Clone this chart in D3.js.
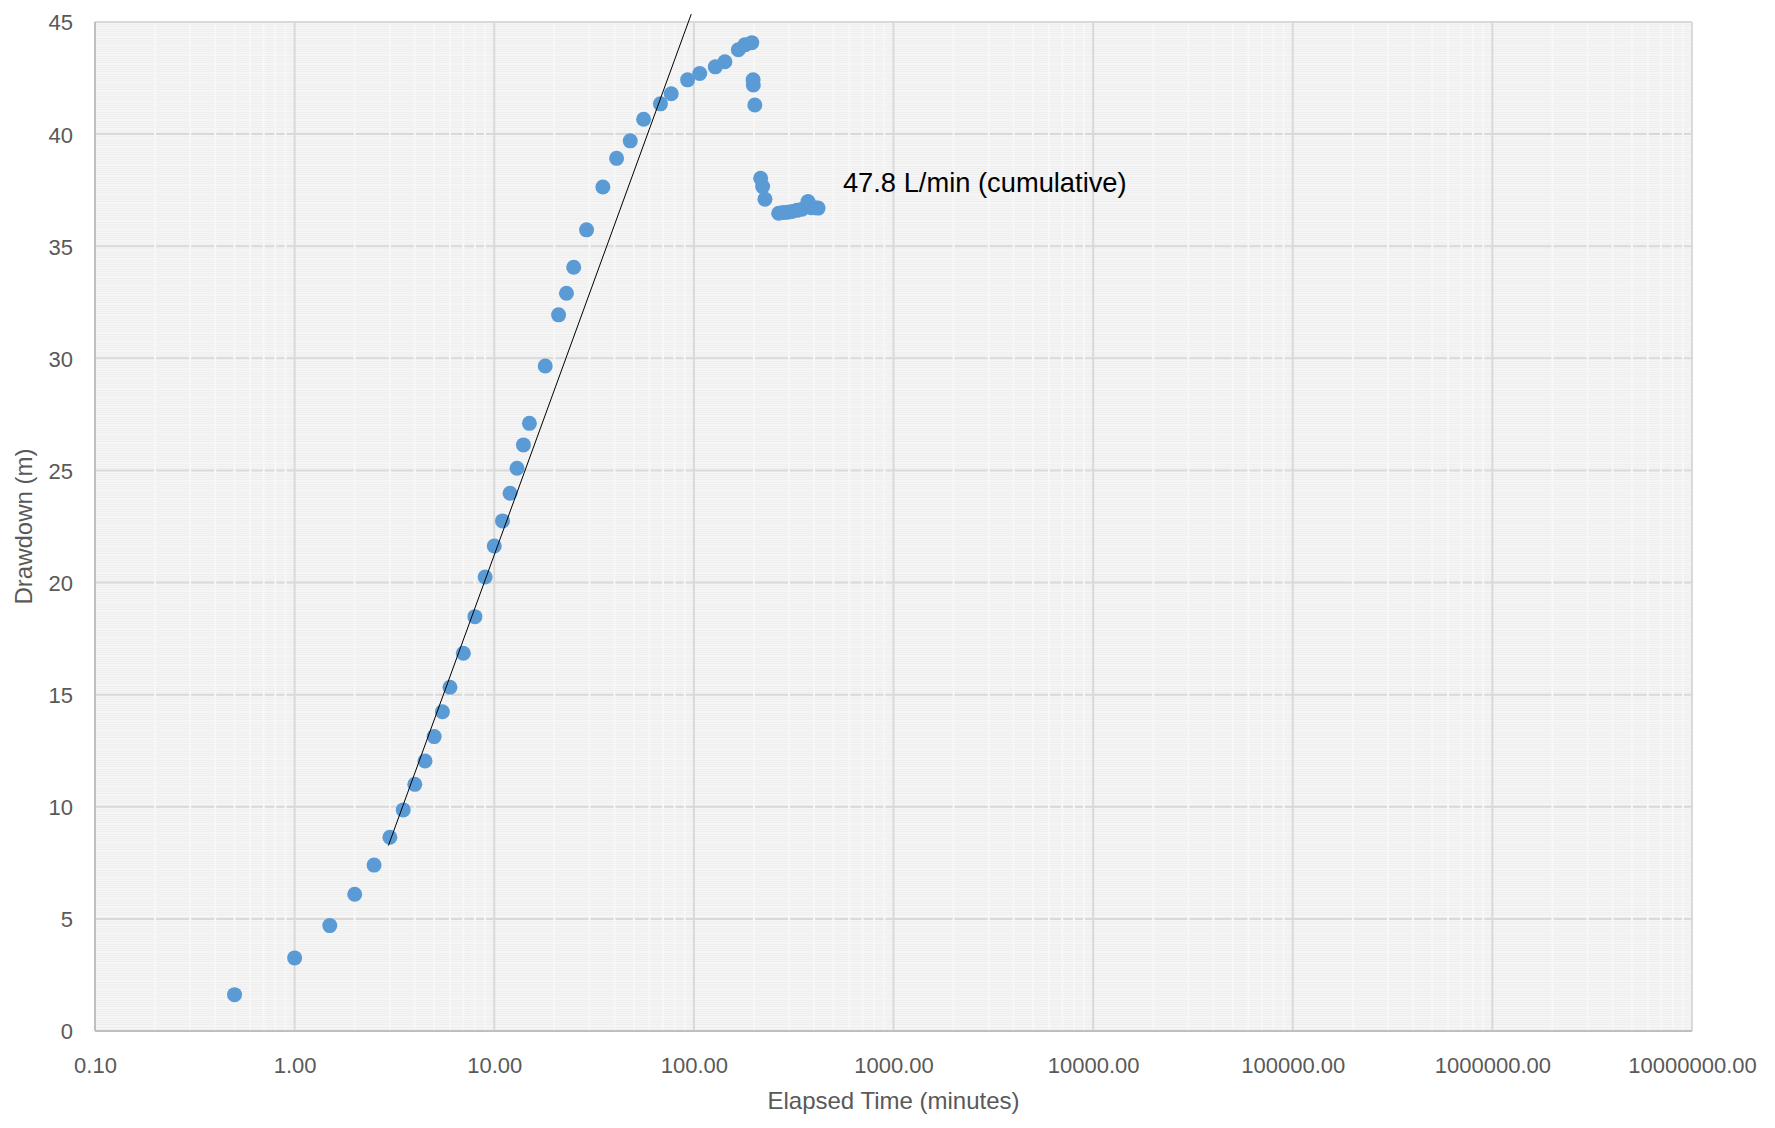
<!DOCTYPE html>
<html>
<head>
<meta charset="utf-8">
<script src="https://cdn.jsdelivr.net/npm/d3@7/dist/d3.min.js"></script>
<style>
  body { margin: 0; background: #fff; }
  text { font-family: "Liberation Sans", Arial, sans-serif; }
</style>
</head>
<body>
<div id="chart"></div>
<script>
var W = 1775, H = 1128;
var margin = {left: 95, top: 22, right: 83, bottom: 97},
    width = W - margin.left - margin.right,
    height = H - margin.top - margin.bottom;

// elapsed time (minutes) and drawdown (m)
var timeMin = [0.5, 1, 1.5, 2, 2.5, 3, 3.5, 4, 4.5, 5, 5.5, 6, 7, 8, 9, 10, 11, 12, 13, 14, 15,
  18, 21, 23, 25, 29, 35, 41, 48, 56, 68, 77, 93, 107, 128, 143, 167, 180, 195,
  198, 198.5, 202, 216, 221, 227,
  266, 280, 295, 310, 328, 348, 373, 388, 403, 419];
var drawdown = [1.62, 3.26, 4.70, 6.10, 7.40, 8.64, 9.86, 11.0, 12.04, 13.13, 14.24, 15.33, 16.85, 18.48, 20.25, 21.63, 22.75, 23.98, 25.1, 26.14, 27.1,
  29.66, 31.94, 32.9, 34.06, 35.73, 37.64, 38.92, 39.7, 40.66, 41.35, 41.8, 42.42, 42.7, 43.0, 43.23, 43.76, 43.98, 44.08,
  42.42, 42.19, 41.3, 38.03, 37.66, 37.1,
  36.47, 36.5, 36.52, 36.55, 36.6, 36.65, 36.99, 36.72, 36.72, 36.7];

// straight-line fit (semi-log) end points
var trendT = [2.95, 97];
var trendS = [8.27, 45.35];

var xTicks = [0.1, 1, 10, 100, 1000, 10000, 100000, 1000000, 10000000];
var yTicks = [0, 5, 10, 15, 20, 25, 30, 35, 40, 45];

var noteText = "47.8 L/min (cumulative)";
var noteT = 558, noteS = 37.4;

var x = d3.scaleLog().domain([0.1, 1e7]).range([0, width]);
var y = d3.scaleLinear().domain([0, 45]).range([height, 0]);

var svg = d3.select("#chart").append("svg")
  .attr("width", W)
  .attr("height", H);

var g = svg.append("g")
  .attr("transform", "translate(" + margin.left + "," + margin.top + ")");

// plot background
g.append("rect")
  .attr("width", width)
  .attr("height", height)
  .attr("fill", "#f5f5f5");

// fine horizontal minor lines (every 0.1 m)
g.append("g").selectAll("line")
  .data(d3.range(1, 450).map(function(i) { return i / 10; }))
  .enter().append("line")
  .attr("x1", 0).attr("x2", width)
  .attr("y1", function(d) { return Math.round(y(d)) + 0.5; })
  .attr("y2", function(d) { return Math.round(y(d)) + 0.5; })
  .attr("stroke", "#efefef")
  .attr("stroke-width", 1);

// major horizontal gridlines
g.append("g").selectAll("line")
  .data(yTicks.slice(1))
  .enter().append("line")
  .attr("x1", 0).attr("x2", width)
  .attr("y1", function(d) { return y(d); })
  .attr("y2", function(d) { return y(d); })
  .attr("stroke", "#d9d9d9")
  .attr("stroke-width", 2);

// minor vertical lines (lighter than background, they break the horizontal gridlines)
var minorX = [];
xTicks.slice(0, -1).forEach(function(t) {
  for (var k = 2; k < 10; k++) minorX.push(t * k);
});
g.append("g").selectAll("line")
  .data(minorX)
  .enter().append("line")
  .attr("x1", function(d) { return x(d); })
  .attr("x2", function(d) { return x(d); })
  .attr("y1", 0).attr("y2", height)
  .attr("stroke", "#f7f7f7")
  .attr("stroke-width", 2);

// major vertical gridlines
g.append("g").selectAll("line")
  .data(xTicks.slice(1, -1))
  .enter().append("line")
  .attr("x1", function(d) { return x(d); })
  .attr("x2", function(d) { return x(d); })
  .attr("y1", 0).attr("y2", height)
  .attr("stroke", "#d9d9d9")
  .attr("stroke-width", 2);

// frame
g.append("line").attr("x1", 0).attr("x2", width).attr("y1", 0).attr("y2", 0)
  .attr("stroke", "#d9d9d9").attr("stroke-width", 2);
g.append("line").attr("x1", width).attr("x2", width).attr("y1", 0).attr("y2", height)
  .attr("stroke", "#d9d9d9").attr("stroke-width", 2);
g.append("line").attr("x1", 0).attr("x2", 0).attr("y1", 0).attr("y2", height)
  .attr("stroke", "#bfbfbf").attr("stroke-width", 2);
g.append("line").attr("x1", 0).attr("x2", width).attr("y1", height).attr("y2", height)
  .attr("stroke", "#bfbfbf").attr("stroke-width", 2);

// axes (labels only)
var xAxis = d3.axisBottom(x).tickValues(xTicks).tickFormat(d3.format(".2f")).tickSize(0).tickPadding(26);
var yAxis = d3.axisLeft(y).tickValues(yTicks).tickSize(0).tickPadding(22);

var gx = g.append("g").attr("transform", "translate(0," + height + ")").call(xAxis);
var gy = g.append("g").call(yAxis);
[gx, gy].forEach(function(a) {
  a.select(".domain").remove();
  a.selectAll("text")
    .style("font-family", "'Liberation Sans', Arial, sans-serif")
    .style("font-size", "22px")
    .attr("fill", "#595959");
});
gy.selectAll("text").attr("dy", "0.36em");

// points
g.append("g").selectAll("circle")
  .data(timeMin)
  .enter().append("circle")
  .attr("cx", function(d) { return x(d); })
  .attr("cy", function(d, i) { return y(drawdown[i]); })
  .attr("r", 7.5)
  .attr("fill", "#5b9bd5");

// trend line
g.append("path")
  .datum(trendT)
  .attr("fill", "none")
  .attr("stroke", "#000")
  .attr("stroke-width", 1)
  .attr("d", d3.line()
    .x(function(d) { return x(d); })
    .y(function(d, i) { return y(trendS[i]); }));

// annotation
g.append("text")
  .attr("x", x(noteT))
  .attr("y", y(noteS))
  .style("font-size", "27.3px")
  .attr("fill", "#000")
  .text(noteText);

// axis titles
svg.append("text")
  .attr("x", margin.left + width / 2)
  .attr("y", 1109)
  .attr("text-anchor", "middle")
  .style("font-size", "24px")
  .attr("fill", "#595959")
  .text("Elapsed Time (minutes)");

svg.append("text")
  .attr("transform", "translate(32," + (margin.top + height / 2) + ") rotate(-90)")
  .attr("text-anchor", "middle")
  .style("font-size", "24px")
  .attr("fill", "#595959")
  .text("Drawdown (m)");
</script>
</body>
</html>
